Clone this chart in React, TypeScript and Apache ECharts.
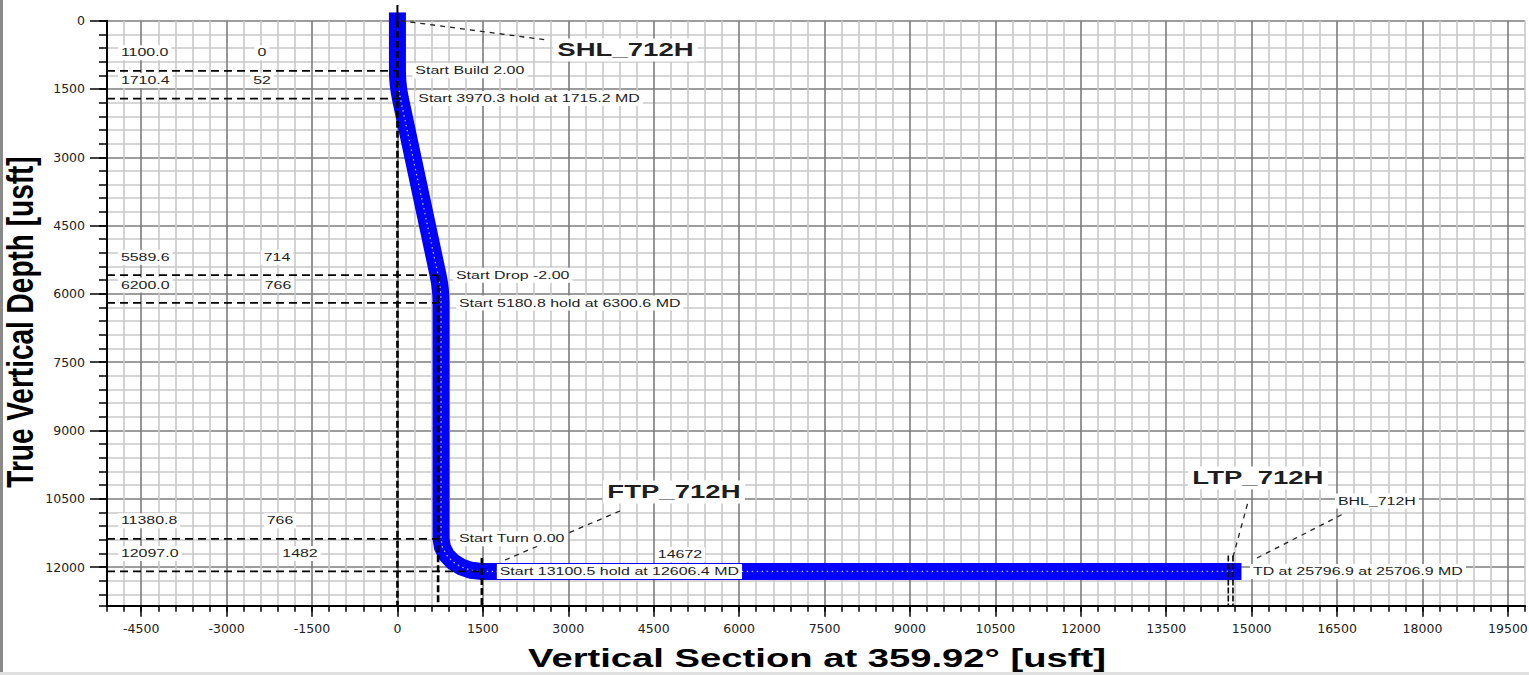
import React, { useEffect, useRef } from "react";
import * as echarts from "echarts";

// ---- axis ranges & tick labels ----
const xMin = -5100;
const xMax = 19800;
const yMin = 0;
const yMax = 12850;
const xTickLabels = [-4500, -3000, -1500, 0, 1500, 3000, 4500, 6000, 7500, 9000, 10500, 12000, 13500, 15000, 16500, 18000, 19500];
const yTickLabels = [0, 1500, 3000, 4500, 6000, 7500, 9000, 10500, 12000];

// ---- well path (Vertical Section, TVD) ----
const pathVS = [0, 0, 3.1, 12.6, 28.3, 52, 714, 737.7, 753.4, 762.9, 766, 766, 790.4, 861.9, 975.7, 1124, 1296.7, 1482, 14672];
const pathTVD = [0, 1100, 1250, 1400, 1550, 1710.4, 5589.6, 5750, 5900, 6050, 6200, 11380.8, 11566.1, 11738.8, 11887.1, 12000.9, 12072.4, 12097, 12097];

// ---- key points (section table) ----
const keyTVD = [1100.0, 1710.4, 5589.6, 6200.0, 11380.8, 12097.0];
const keyVS = [0, 52, 714, 766, 766, 1482];
const keyNotes = [
  "Start Build 2.00",
  "Start 3970.3 hold at 1715.2 MD",
  "Start Drop -2.00",
  "Start 5180.8 hold at 6300.6 MD",
  "Start Turn 0.00",
  "Start 13100.5 hold at 12606.4 MD",
];
const lateralEndVS = 14672;
const tdNote = "TD at 25796.9 at 25706.9 MD";

// vertical reference lines [VS, fromTVD]
const refVS = [0, 714, 1482];
const refFromTVD = [0, 5589.6, 11800];
const targetVS = [14590, 14672];
const targetFromTVD = [11750, 11750];

const targetNames = ["SHL_712H", "FTP_712H", "LTP_712H", "BHL_712H"];

export default function App() {
  const ref = useRef<HTMLDivElement>(null);

  useEffect(() => {
    const chart = echarts.init(ref.current!, null, { renderer: "svg" });
    const minorC = "#c8c8c8";
    const majorC = "#7c7c7c";
    const xColors = [minorC, minorC, majorC, minorC, minorC];
    const yColors = [majorC, minorC, minorC, minorC, minorC];
    const tickFont = { fontFamily: "DejaVu Sans", fontSize: 12.5, color: "#222", formatter: (v: number) => String(v) };

    const option: any = {
      animation: false,
      backgroundColor: "#fff",
      grid: { left: 107, top: 20.7, right: 4, bottom: 69.3, containLabel: false, outerBoundsMode: "none" },
      xAxis: [
        {
          type: "value", min: xMin, max: xMax, interval: 300, position: "bottom",
          axisLine: { show: true, onZero: false, lineStyle: { color: "#000", width: 2 } },
          axisTick: { show: true, length: 6, lineStyle: { color: "#000", width: 1.5 } },
          axisLabel: { show: false },
          splitLine: { show: true, lineStyle: { color: xColors, width: 1.6 } },
        },
        {
          type: "value", min: xMin, max: xMax, position: "bottom",
          axisLine: { show: false, onZero: false },
          axisTick: { show: true, length: 11, customValues: xTickLabels, lineStyle: { color: "#000", width: 1.5 } },
          axisLabel: { show: true, customValues: xTickLabels, margin: 16, ...tickFont },
          splitLine: { show: false },
        },
      ],
      yAxis: [
        {
          type: "value", inverse: true, min: yMin, max: yMax, interval: 300, position: "left",
          axisLine: { show: true, onZero: false, lineStyle: { color: "#000", width: 2 } },
          axisTick: { show: true, length: 8, lineStyle: { color: "#000", width: 1.5 } },
          axisLabel: { show: false },
          splitLine: { show: true, lineStyle: { color: yColors, width: 1.6 } },
        },
        {
          type: "value", inverse: true, min: yMin, max: yMax, position: "left",
          axisLine: { show: false, onZero: false },
          axisTick: { show: true, length: 17, customValues: yTickLabels, lineStyle: { color: "#000", width: 1.5 } },
          axisLabel: { show: true, customValues: yTickLabels, margin: 22, ...tickFont },
          splitLine: { show: false },
        },
      ],
      series: [
        {
          type: "line", xAxisIndex: 0, yAxisIndex: 0, z: 3,
          data: pathVS.map((v, i) => [v, pathTVD[i]]),
          showSymbol: false, silent: true,
          lineStyle: { color: "#0000ff", width: 17, cap: "square", join: "miter" },
        },
        {
          type: "line", xAxisIndex: 0, yAxisIndex: 0, z: 4,
          data: pathVS.map((v, i) => [v, pathTVD[i]]),
          showSymbol: false, silent: true,
          lineStyle: { color: "#ffffff", width: 1.2, type: [1.5, 3.5], opacity: 0.75 },
        },
      ],
    };
    chart.setOption(option);

    const P = (vs: number, tvd: number) => chart.convertToPixel({ seriesIndex: 0 }, [vs, tvd]) as number[];
    const els: any[] = [];
    const small = '11px "Liberation Sans", Arial, sans-serif';
    const big = 'bold 19px "Liberation Sans", Arial, sans-serif';
    const SX = 1.45;
    const txt = (text: string, x: number, y: number, align: string, font: string, pad: number[] = [2, 2]) => {
      els.push({
        type: "text", x, y, scaleX: SX, z: 20,
        style: {
          text, x: 0, y: 0, font, fill: "#1e1e1e", textAlign: align, textVerticalAlign: "middle",
          backgroundColor: "#fff", padding: pad,
        },
      });
    };
    const line = (x1: number, y1: number, x2: number, y2: number, w: number, dash: number[], z = 10) => {
      els.push({
        type: "line", z, shape: { x1, y1, x2, y2 },
        style: { stroke: "#000", lineWidth: w, lineDash: dash },
      });
    };

    // horizontal key lines
    keyTVD.forEach((t, i) => {
      const a = P(xMin, t);
      const b = P(keyVS[i], t);
      line(a[0], a[1], b[0], b[1], 1.8, [8, 5]);
    });
    // vertical reference lines
    refVS.forEach((v, i) => {
      const a = P(v, refFromTVD[i]);
      const b = P(v, yMax);
      line(a[0], a[1], b[0], b[1], 2.6, [7, 3]);
    });
    targetVS.forEach((v, i) => {
      const a = P(v, targetFromTVD[i]);
      const b = P(v, yMax);
      line(a[0], a[1], b[0], b[1], 1.6, [6, 2]);
    });
    // short mark above plot at VS 0
    const top0 = P(0, 0);
    line(top0[0], 5, top0[0], top0[1], 2, [], 5);

    // leader lines
    const lead = (x1: number, y1: number, x2: number, y2: number) => {
      els.push({ type: "line", z: 12, shape: { x1, y1, x2, y2 }, style: { stroke: "#222", lineWidth: 1.3, lineDash: [5, 5] } });
    };
    lead(top0[0] + 3, top0[1], 547, 40);
    lead(505, 560, 620, 511);
    lead(1233, 557, 1248, 502);
    lead(1257, 558, 1345, 513);

    // section table labels
    const col2 = [262, 262, 277, 278, 280, 300];
    keyTVD.forEach((t, i) => {
      const y = P(0, t)[1] - 18;
      txt(t.toFixed(1), 118, y, "left", small);
      txt(String(keyVS[i]), col2[i], y, "center", small);
    });
    // notes along path
    keyTVD.forEach((t, i) => {
      const p = P(keyVS[i], t);
      txt(keyNotes[i], p[0] + 15, p[1], "left", small);
    });
    const lat = P(lateralEndVS, pathTVD[pathTVD.length - 1]);
    txt(String(lateralEndVS), 680, lat[1] - 17, "center", small);
    txt(tdNote, 1250, lat[1], "left", small);

    // target names
    txt(targetNames[0], 553, 50, "left", big, [2, 3]);
    txt(targetNames[1], 603, 492, "left", big, [2, 3]);
    txt(targetNames[2], 1188, 478, "left", big, [2, 3]);
    txt(targetNames[3], 1335, 501, "left", small);

    // axis titles
    els.push({
      type: "text", x: 817, y: 658, scaleX: 1.47, z: 20,
      style: { text: "Vertical Section at 359.92° [usft]", x: 0, y: 0, font: 'bold 26px "Liberation Sans", Arial, sans-serif', fill: "#000", textAlign: "center", textVerticalAlign: "middle" },
    });
    els.push({
      type: "text", x: 21, y: 322, rotation: Math.PI / 2, scaleY: 1.3, z: 20,
      style: { text: "True Vertical Depth [usft]", x: 0, y: 0, font: 'bold 28px "Liberation Sans", Arial, sans-serif', fill: "#000", textAlign: "center", textVerticalAlign: "middle" },
    });

    // page borders
    els.push({ type: "rect", z: 30, shape: { x: 0, y: 0, width: 3, height: 675 }, style: { fill: "#8a8a8a" } });
    els.push({ type: "rect", z: 30, shape: { x: 0, y: 672, width: 1529, height: 3 }, style: { fill: "#e0e0e0" } });

    chart.setOption({ graphic: { elements: els } });
    return () => chart.dispose();
  }, []);

  return (
    <div
      ref={ref}
      style={{ position: "fixed", left: 0, top: 0, width: 1529, height: 675, background: "#fff" }}
    />
  );
}
